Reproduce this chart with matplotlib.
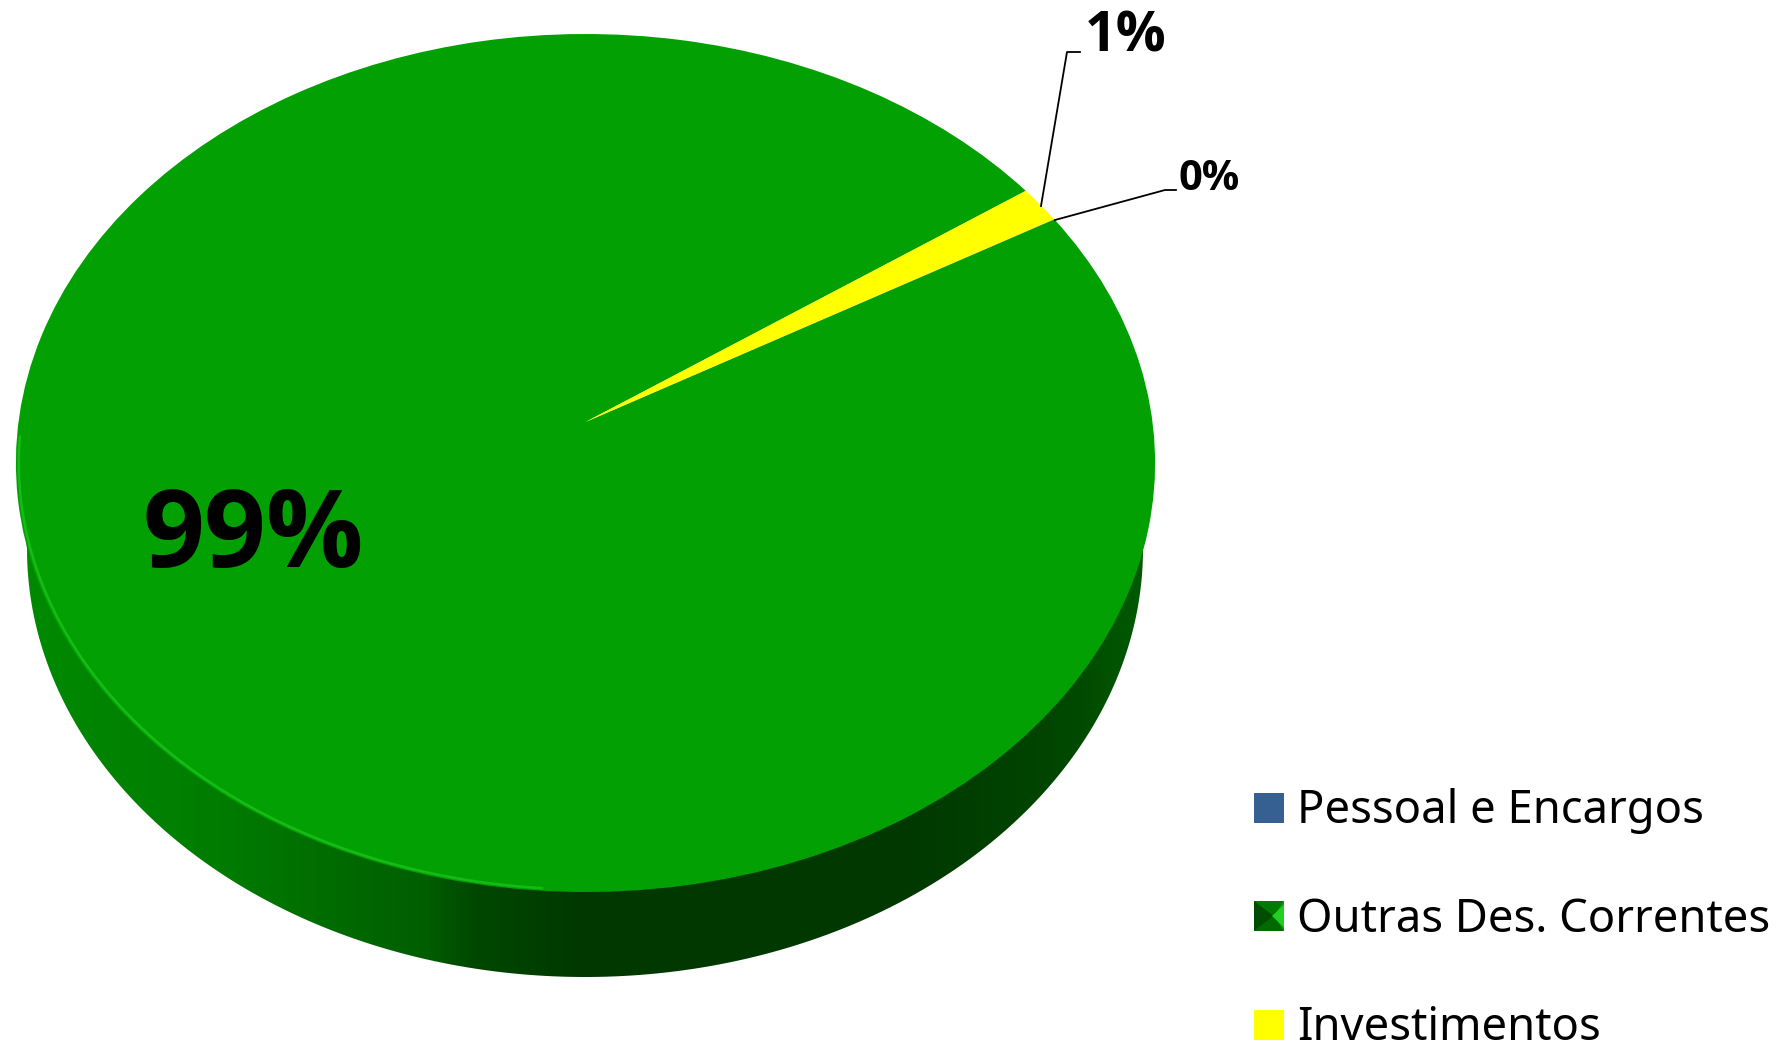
"""Tilted pie chart with a thick side wall, drawn on a pixel-sized canvas."""

import matplotlib
matplotlib.use("Agg")
import matplotlib.pyplot as plt
import numpy as np
from matplotlib.colors import LinearSegmentedColormap
from matplotlib.patches import PathPatch, Polygon, Rectangle
from matplotlib.path import Path
from matplotlib.transforms import Transform

plt.rcParams["font.family"] = ["Noto Sans", "DejaVu Sans"]
LABEL_FONT = ["Open Sans", "DejaVu Sans"]

categories = ["Pessoal e Encargos", "Outras Des. Correntes", "Investimentos"]
shares = [0.01, 98.6, 1.39]
share_labels = ["0%", "99%", "1%"]
slice_colors = ["#376092", "#02A002", "#FFFF00"]


class TiltTransform(Transform):
    """Project the unit-circle pie onto the tilted top face (pixels, y down)."""

    input_dims = 2
    output_dims = 2
    is_separable = False

    def transform_non_affine(self, values):
        values = np.asarray(values, dtype=float)
        w = 1 + 0.09557 * values[:, 1]
        return np.column_stack(
            (585.5 + 567 * values[:, 0] / w, (422 - 384.75 * values[:, 1]) / w)
        )


fig = plt.figure(figsize=(17.89, 10.46), dpi=100)
ax = fig.add_axes([0, 0, 1, 1])

wedges, _ = ax.pie(
    shares,
    colors=slice_colors,
    startangle=30,
    counterclock=False,
    wedgeprops={"linewidth": 0, "zorder": 3},
)
tilt = TiltTransform()
for wedge in wedges:
    wedge.set_transform(tilt + ax.transData)

ax.set_aspect("auto")
ax.axis("off")

# side wall: horizontal gradient clipped to the lower rim
wall_cmap = LinearSegmentedColormap.from_list(
    "wall",
    [
        (0.00, "#008A00"),
        (0.18, "#007C00"),
        (0.26, "#006E00"),
        (0.36, "#005E00"),
        (0.40, "#004800"),
        (0.50, "#003800"),
        (0.78, "#003800"),
        (0.92, "#004600"),
        (1.00, "#005C00"),
    ],
)
t = np.linspace(np.pi, 2 * np.pi, 200)
rim_x = 585 + 558 * np.cos(t)
rim_y = 549 - 428 * np.sin(t)
wall_xy = np.column_stack(
    (np.r_[19, rim_x, 1150], np.r_[470, rim_y, 470])
)
wall = ax.imshow(
    np.linspace(0, 1, 256)[None, :],
    cmap=wall_cmap,
    extent=(17, 1152, 1046, 300),
    aspect="auto",
    zorder=2,
)
wall.set_clip_path(Polygon(wall_xy, closed=True, transform=ax.transData))
ax.set_xlim(0, 1789)
ax.set_ylim(1046, 0)

# light line along the front-left edge of the top face
t = np.radians(np.linspace(182, 266, 120))
ax.plot(
    *tilt.transform(np.column_stack((0.995 * np.cos(t), 0.995 * np.sin(t)))).T,
    color="#16BC16",
    lw=1.8,
    zorder=4,
)

# slice labels and leader lines
ax.text(143, 567, share_labels[1], fontsize=78, family=LABEL_FONT, fontweight="bold", va="baseline", zorder=5)
ax.text(1085, 52, share_labels[2], fontsize=40, family=LABEL_FONT, fontweight="bold", va="baseline", zorder=5)
ax.text(1179, 190, share_labels[0], fontsize=30, family=LABEL_FONT, fontweight="bold", va="baseline", zorder=5)
ax.plot([1041, 1067, 1080], [206, 52, 52], color="black", lw=1.3, zorder=5)
ax.plot([1055, 1165, 1176], [220, 190, 190], color="black", lw=1.3, zorder=5)

# legend
swatch_tops = [793, 901, 1010]
baselines = [823, 932, 1040]
for name, color, top, base in zip(categories, slice_colors, swatch_tops, baselines):
    ax.text(1297, base, name, fontsize=32.7, va="baseline", color="black")
    ax.add_patch(Rectangle((1254, top), 30, 30, facecolor=color, edgecolor="none"))

# bevelled swatch for the green series
top = swatch_tops[1]
mid = (1274, top + 15)
corners = [(1254, top), (1284, top), (1284, top + 30), (1254, top + 30)]
bevels = ["#007A00", "#10A810", "#006A00", "#004C00"]
for i, shade in enumerate(bevels):
    ax.add_patch(
        Polygon([corners[i], corners[(i + 1) % 4], mid], closed=True, facecolor=shade, edgecolor="none")
    )
ax.add_patch(
    PathPatch(
        Path([(1284, top + 4), (1284, top + 26), (1272, top + 15), (1284, top + 4)]),
        facecolor="#22D022",
        edgecolor="none",
    )
)

fig.savefig("out.png", dpi=100, facecolor="white")
plt.close(fig)
